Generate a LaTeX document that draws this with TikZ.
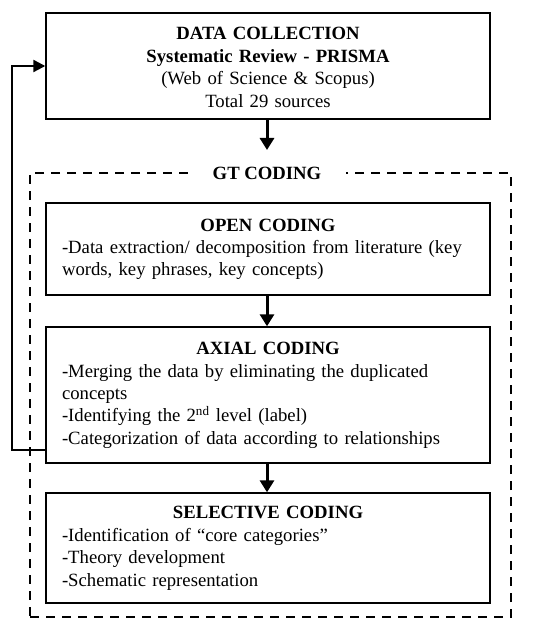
\documentclass[tikz,border=0pt]{standalone}
\usepackage{fontspec}
\setmainfont{Liberation Serif}
\usetikzlibrary{arrows.meta}
\begin{document}
\begin{tikzpicture}[x=1pt,y=-1pt,
  every node/.style={font=\fontsize{18.7}{22.4}\selectfont},
  stagebox/.style={draw,line width=1.4pt,inner xsep=16pt,inner ysep=0pt,
    text width=412pt,align=left,minimum width=444pt},
  frame/.style={draw,dashed,dash pattern=on 9pt off 7pt,line width=2.2pt,
    minimum width=481pt,minimum height=444pt,inner sep=0pt},
  arr/.style={line width=3pt,-{Triangle[length=12pt,width=14pt]}},
  fb/.style={line width=2.2pt,-{Triangle[length=12pt,width=12pt]}}]
\useasboundingbox (0,0) rectangle (550,631);
% outer dashed frame
\node[frame] (gt) at (270.5,395) {};
\node[fill=white,inner xsep=25pt,inner ysep=2pt,font=\fontsize{18.7}{22.4}\selectfont\bfseries] (gtlabel) at (267,173) {GT CODING};
% boxes
\node[stagebox,align=center,minimum height=106pt] (dc) at (268,66)
  {\rule{0pt}{21.7pt}\textbf{DATA COLLECTION}\\ \textbf{Systematic Review - PRISMA}\\ (Web of Science \& Scopus)\\ Total 29 sources\strut};
\node[stagebox,minimum height=92pt] (open) at (268,249)
  {\strut\makebox[412pt][c]{\textbf{OPEN CODING}}\\ -Data extraction/ decomposition from literature (key\\ words, key phrases, key concepts)\strut};
\node[stagebox,minimum height=136pt] (axial) at (268,395)
  {\strut\makebox[412pt][c]{\textbf{AXIAL CODING}}\\ -Merging the data by eliminating the duplicated\\ concepts\\ -Identifying the 2\textsuperscript{nd} level (label)\\ -Categorization of data according to relationships\strut};
\node[stagebox,minimum height=110pt] (sel) at (268,548)
  {\strut\makebox[412pt][c]{\textbf{SELECTIVE CODING}}\\ -Identification of “core categories”\\ -Theory development\\ -Schematic representation\strut};
% connectors
\coordinate (dcend) at (267,150);
\draw[arr] (dc.south -| dcend) -- (dcend);
\draw[arr] (open.south -| dcend) -- (axial.north -| dcend);
\draw[arr] (axial.south -| dcend) -- (sel.north -| dcend);
\draw[fb] ([yshift=-55pt]axial.west) -- ++(-33,0) |- (dc.west);
\end{tikzpicture}
\end{document}
